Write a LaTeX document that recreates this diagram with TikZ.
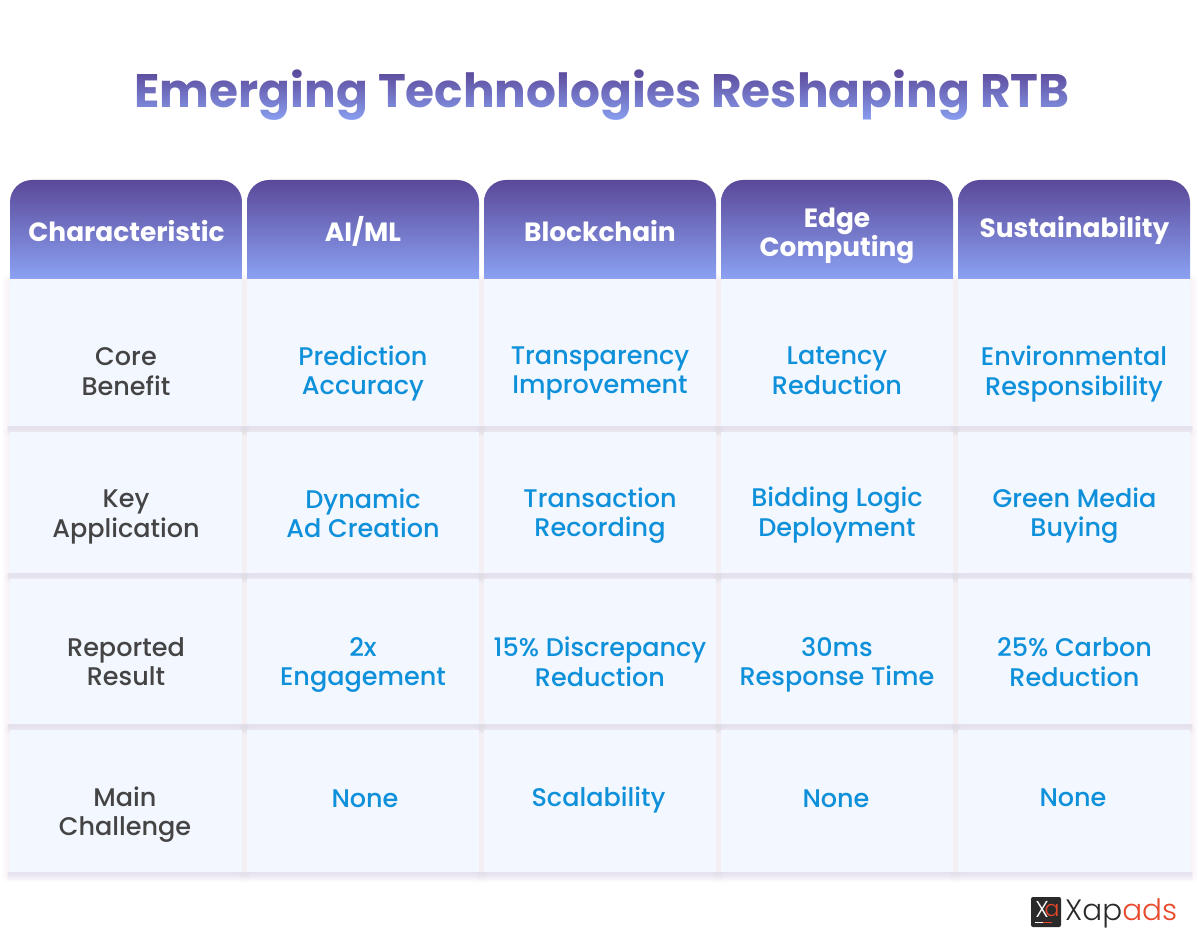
\documentclass[tikz,border=0pt]{standalone}
\usepackage{fontspec}
\setmainfont{Poppins}
\newfontfamily\pmed{Poppins Medium}
\newfontfamily\plight{Poppins Light}
\newfontfamily\pbold{Poppins}[UprightFont=*-Bold]
\usetikzlibrary{fadings}
\definecolor{gtop}{HTML}{5B4899}
\definecolor{gbot}{HTML}{8BA2F3}
\definecolor{cellbg}{HTML}{F3F7FF}
\definecolor{valblue}{HTML}{0E90DA}
\definecolor{labgrey}{HTML}{444444}
\definecolor{logored}{HTML}{E8472A}
\definecolor{logodark}{HTML}{2A2A2A}
\definecolor{shadowc}{HTML}{8878B8}
\begin{tikzfadingfrompicture}[name=titlefade]
\node[text=transparent!0,inner sep=0pt,font=\pbold\fontsize{47}{50}\selectfont] {Emerging Technologies Reshaping RTB};
\end{tikzfadingfrompicture}
\tikzset{
 headcell/.style={top color=gtop,bottom color=gbot,draw=none},
 bodycell/.style={fill=cellbg,draw=none},
 softshadow/.style={fill=shadowc,fill opacity=0.007,draw=none},
 lowshadow/.style={fill=shadowc,fill opacity=0.011,draw=none},
 headtext/.style={text=white,font=\pbold\fontsize{26.4}{29}\selectfont,align=center,inner sep=0pt},
 labtext/.style={text=labgrey,font=\pmed\fontsize{25.5}{29.5}\selectfont,align=center,inner sep=0pt},
 valtext/.style={text=valblue,font=\pmed\fontsize{25.5}{29.5}\selectfont,align=center,inner sep=0pt},
}
\begin{document}
\begin{tikzpicture}[x=1pt,y=-1pt]
\useasboundingbox (0,0) rectangle (1200,949);
\fill[white] (0,0) rectangle (1200,949);
% title
\node[inner sep=0pt,minimum width=1000pt,minimum height=52pt] (titlebox) at (601,96) {};
\shade[top color=gtop,bottom color=gbot,path fading=titlefade,fit fading=false,fading transform={shift={(602pt,-95pt)}}] (101,70) rectangle (1101,122);
% shadows
\foreach \t/\b in {280/426,432/573,579/724,730/872}{
 \foreach \x in {10,247,484,721,958}{
  \foreach \g in {1,...,8}{
   \path[softshadow,rounded corners=\g pt] (\x-\g,\t-\g+2) rectangle (\x+232+\g,\b+\g+3);
  }
  \foreach \k in {1,...,9}{
   \path[lowshadow,rounded corners=1pt] (\x-2.5,\b) rectangle (\x+234.5,\b+\k);
  }
 }
}
% cells
\foreach \x/\n in {10/a,247/b,484/c,721/d,958/e}{
 \foreach \t/\b/\m in {280/426/r1,432/573/r2,579/724/r3,730/872/r4}{
  \path[bodycell] (\x,\t) rectangle (\x+232,\b);
 }
 \path[headcell] (\x,279) [rounded corners=22pt] -- (\x,180) -- (\x+232,180) [sharp corners] -- (\x+232,279) -- cycle;
}
% header
\node[headtext] (h1) at (126.5,231) {Characteristic};
\node[headtext] (h2) at (363,231) {AI/ML};
\node[headtext] (h3) at (600,231) {Blockchain};
\node[headtext] (h4) at (837,236) {Edge\\Computing};
\node[headtext] (h5) at (1074.5,230) {Sustainability};
% rows
\node[labtext] (l1) at (126,371.5) {Core\\Benefit};
\node[labtext] (l2) at (126,517) {Key\\Application};
\node[labtext] (l3) at (126,661.5) {Reported\\Result};
\node[labtext] (l4) at (125,814.5) {Main\\Challenge};
\node[valtext] (a1) at (363,373.5) {Prediction\\Accuracy};
\node[valtext] (b1) at (600,373.5) {Transparency\\Improvement};
\node[valtext] (c1) at (837,371) {Latency\\Reduction};
\node[valtext] (d1) at (1074,374) {Environmental\\Responsibility};
\node[valtext] (a2) at (363,513.5) {Dynamic\\Ad Creation};
\node[valtext] (b2) at (600,515.5) {Transaction\\Recording};
\node[valtext] (c2) at (837,515) {Bidding Logic\\Deployment};
\node[valtext] (d2) at (1074.5,515.5) {Green Media\\Buying};
\node[valtext] (a3) at (363,665) {2x\\Engagement};
\node[valtext] (b3) at (600,662) {15\% Discrepancy\\Reduction};
\node[valtext] (c3) at (837,665) {30ms\\Response Time};
\node[valtext] (d3) at (1074.5,662) {25\% Carbon\\Reduction};
\node[valtext] (a4) at (365,799) {None};
\node[valtext] (b4) at (598.5,799.5) {Scalability};
\node[valtext] (c4) at (836,799) {None};
\node[valtext] (d4) at (1073,798) {None};
% logo
\fill[logodark,rounded corners=2pt] (1031,897) rectangle (1061,927);
\node[inner sep=0pt,text=white,font=\plight\fontsize{23}{23}\selectfont] (lx) at (1042,909) {X};
\node[inner sep=0pt,text=logored,font=\plight\fontsize{22}{22}\selectfont] (la) at (1052,910) {a};
\fill[white] (1035,922) rectangle (1043,923);
\fill[logored] (1043,922) rectangle (1052,923);
\node[anchor=west,inner sep=0pt,font=\plight\fontsize{29.5}{29.5}\selectfont,text=logodark] (lt) at (1065,913) {Xap\textcolor{logored}{ads}};
\end{tikzpicture}
\end{document}
